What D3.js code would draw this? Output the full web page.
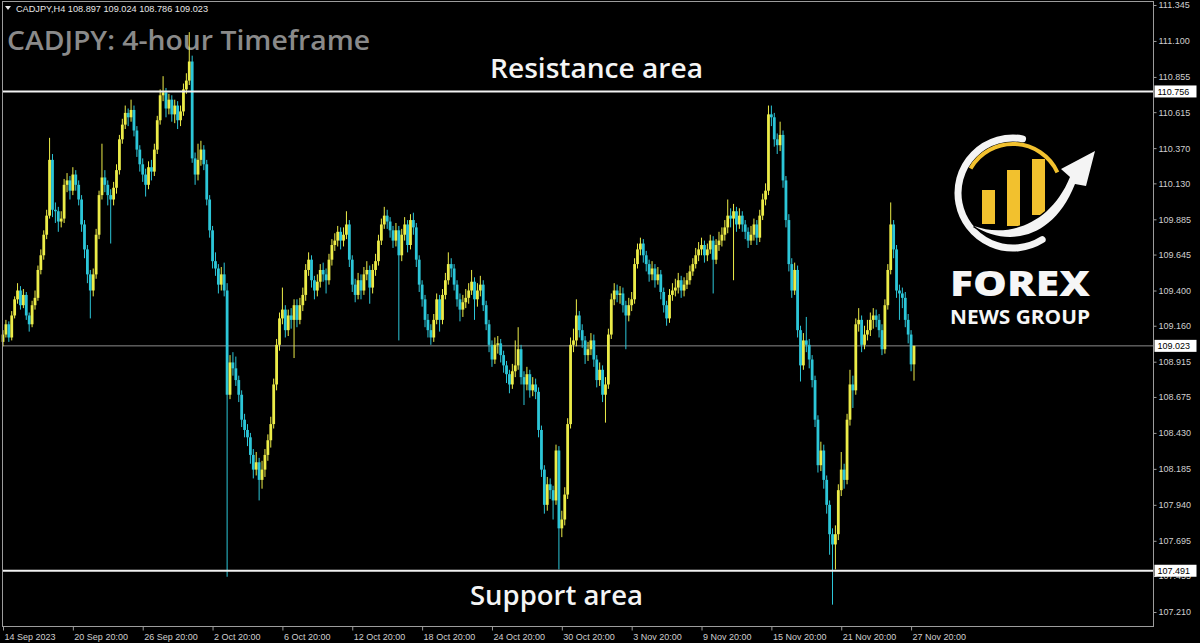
<!DOCTYPE html>
<html><head><meta charset="utf-8">
<script src="https://cdn.jsdelivr.net/npm/d3@7"></script>
<style>html,body{margin:0;padding:0;background:#000;}svg{display:block;}</style>
</head><body>
<script>
// ---------- DATA ----------
const symbolInfo = "CADJPY,H4  108.897 109.024 108.786 109.023";
const chartTitle = "CADJPY: 4-hour Timeframe";
const firstOpen = 109.05;
const closes = [
109.10,109.17,109.08,109.23,109.34,109.40,109.30,109.37,109.23,109.17,
109.30,109.35,109.54,109.64,109.78,109.91,110.29,109.95,109.94,109.87,
109.89,110.12,110.15,110.08,110.19,110.12,110.02,109.85,109.68,109.51,
109.40,109.51,109.78,110.05,110.17,110.12,110.05,110.02,110.10,110.22,
110.43,110.53,110.61,110.58,110.63,110.49,110.36,110.26,110.19,110.12,
110.24,110.21,110.36,110.56,110.73,110.75,110.64,110.70,110.60,110.66,
110.56,110.62,110.77,110.83,110.96,110.30,110.19,110.29,110.36,110.26,
110.02,109.81,109.60,109.55,109.44,109.51,109.40,108.69,108.91,108.87,
108.79,108.69,108.52,108.45,108.40,108.28,108.18,108.23,108.11,108.18,
108.28,108.38,108.49,108.76,109.03,109.21,109.27,109.13,109.23,109.20,
109.30,109.20,109.30,109.37,109.54,109.61,109.47,109.40,109.46,109.54,
109.51,109.47,109.61,109.71,109.74,109.80,109.74,109.78,109.85,109.61,
109.44,109.37,109.47,109.40,109.51,109.54,109.42,109.54,109.60,109.74,
109.85,109.91,109.87,109.81,109.74,109.81,109.64,109.78,109.85,109.71,
109.88,109.83,109.61,109.44,109.34,109.20,109.13,109.08,109.20,109.34,
109.20,109.37,109.47,109.58,109.55,109.44,109.34,109.27,109.32,109.35,
109.40,109.46,109.34,109.40,109.44,109.30,109.17,109.03,108.93,109.03,
109.04,108.96,108.89,108.83,108.76,108.85,108.89,109.00,108.81,108.76,
108.83,108.72,108.76,108.71,108.45,108.18,107.94,108.08,108.04,107.97,
108.31,107.78,107.84,108.01,108.49,109.03,109.06,109.23,109.13,109.06,
108.96,109.00,109.06,108.93,108.79,108.86,108.69,108.76,109.10,109.34,
109.40,109.37,109.38,109.30,109.23,109.30,109.34,109.58,109.68,109.72,
109.64,109.58,109.51,109.55,109.47,109.51,109.39,109.30,109.21,109.37,
109.40,109.42,109.47,109.40,109.44,109.47,109.53,109.58,109.64,109.68,
109.71,109.64,109.68,109.74,109.61,109.71,109.74,109.78,109.83,109.91,
109.89,109.94,109.85,109.91,109.85,109.80,109.74,109.78,109.85,109.76,
109.91,110.02,110.08,110.60,110.58,110.43,110.39,110.46,110.15,109.88,
109.58,109.40,109.54,109.13,108.89,109.06,109.03,108.93,108.79,108.52,
108.21,108.31,108.11,107.94,107.74,107.67,107.74,108.04,108.18,108.11,
108.52,108.76,108.72,109.17,109.20,109.03,109.10,109.13,109.20,109.23,
109.20,109.13,109.00,109.30,109.54,109.85,109.68,109.40,109.38,109.35,
109.20,109.10,108.897,109.023];
const highs = [
109.13,109.20,109.19,109.26,109.36,109.45,109.43,109.41,109.39,109.25,
109.33,109.40,109.57,109.68,109.81,109.95,110.44,110.33,110.00,109.97,
109.94,110.16,110.20,110.18,110.24,110.22,110.15,110.05,109.88,109.71,
109.54,109.55,109.82,110.08,110.40,110.22,110.15,110.09,110.14,110.26,
110.46,110.57,110.66,110.64,110.70,110.66,110.52,110.39,110.30,110.23,
110.28,110.29,110.40,110.59,110.77,110.86,110.78,110.74,110.73,110.70,
110.69,110.66,110.81,110.88,111.16,111.00,110.34,110.40,110.42,110.39,
110.29,110.05,109.84,109.66,109.58,109.56,109.59,109.45,108.96,108.98,
108.95,108.82,108.72,108.56,108.49,108.43,108.32,108.30,108.26,108.24,
108.32,108.42,108.54,108.80,109.07,109.25,109.42,109.30,109.27,109.28,
109.34,109.34,109.35,109.42,109.58,109.66,109.64,109.50,109.51,109.58,
109.59,109.55,109.65,109.75,109.79,109.84,109.83,109.83,109.94,109.88,
109.64,109.48,109.52,109.51,109.56,109.60,109.57,109.58,109.65,109.78,
109.89,109.97,109.95,109.90,109.84,109.86,109.84,109.82,109.90,109.88,
109.92,109.93,109.86,109.64,109.47,109.37,109.24,109.17,109.24,109.38,
109.37,109.41,109.52,109.66,109.62,109.58,109.47,109.38,109.37,109.41,
109.45,109.54,109.49,109.45,109.50,109.47,109.33,109.20,109.06,109.08,
109.09,109.07,108.99,108.92,108.86,108.90,109.06,109.15,109.03,108.85,
108.88,108.86,108.81,108.80,108.74,108.48,108.21,108.13,108.12,108.07,
108.35,108.34,107.90,108.06,108.53,109.08,109.14,109.34,109.26,109.17,
109.09,109.05,109.11,109.10,108.96,108.91,108.89,108.81,109.14,109.38,
109.45,109.44,109.43,109.42,109.33,109.35,109.39,109.62,109.72,109.76,
109.75,109.67,109.61,109.60,109.58,109.56,109.54,109.42,109.33,109.41,
109.45,109.48,109.52,109.50,109.49,109.52,109.57,109.62,109.69,109.73,
109.76,109.74,109.72,109.78,109.77,109.75,109.80,109.83,109.88,110.02,
109.96,109.99,109.97,109.96,109.94,109.88,109.83,109.84,109.89,109.88,
109.95,110.06,110.13,110.66,110.66,110.61,110.47,110.55,110.49,110.18,
109.92,109.62,109.59,109.57,109.16,109.11,109.22,109.07,108.96,108.82,
108.55,108.37,108.35,108.14,107.97,107.78,107.80,108.08,108.30,108.22,
108.56,108.86,108.82,109.21,109.28,109.23,109.16,109.20,109.25,109.28,
109.27,109.24,109.17,109.34,109.58,110.00,109.88,109.71,109.44,109.42,
109.39,109.24,109.13,109.024];
const lows = [
109.02,109.08,109.05,109.06,109.21,109.31,109.27,109.28,109.20,109.12,
109.15,109.27,109.33,109.51,109.61,109.75,109.89,109.90,109.86,109.80,
109.83,109.86,110.07,110.02,110.05,110.08,109.98,109.80,109.62,109.45,
109.21,109.36,109.48,109.75,110.02,110.07,109.98,109.72,109.98,110.06,
110.19,110.40,110.50,110.52,110.55,110.45,110.31,110.21,110.14,110.04,
110.09,110.15,110.18,110.33,110.53,110.69,110.58,110.60,110.55,110.54,
110.50,110.52,110.59,110.74,110.80,110.27,110.12,110.15,110.25,110.22,
109.98,109.76,109.55,109.50,109.38,109.40,109.36,107.45,108.66,108.82,
108.75,108.64,108.47,108.40,108.34,108.22,108.12,108.14,107.97,108.05,
108.13,108.24,108.33,108.46,108.72,108.99,109.17,109.08,109.09,109.14,
108.94,109.15,109.17,109.26,109.33,109.50,109.42,109.34,109.36,109.42,
109.46,109.38,109.44,109.57,109.67,109.70,109.68,109.70,109.75,109.56,
109.39,109.32,109.34,109.34,109.37,109.47,109.31,109.38,109.50,109.57,
109.71,109.82,109.82,109.76,109.69,109.70,109.06,109.60,109.74,109.66,
109.68,109.78,109.56,109.39,109.29,109.15,109.08,109.03,109.05,109.17,
109.12,109.17,109.34,109.44,109.49,109.40,109.29,109.19,109.22,109.28,
109.31,109.37,109.20,109.29,109.36,109.26,109.13,108.98,108.88,108.90,
108.97,108.91,108.84,108.77,108.70,108.73,108.81,108.86,108.76,108.62,
108.72,108.67,108.68,108.66,108.40,108.13,107.88,107.90,107.98,107.84,
107.94,107.50,107.72,107.80,107.98,108.46,108.98,109.02,109.08,109.01,
108.90,108.92,108.96,108.88,108.74,108.75,108.64,108.50,108.73,109.07,
109.30,109.32,109.31,109.25,109.00,109.19,109.26,109.31,109.55,109.64,
109.59,109.53,109.46,109.47,109.42,109.44,109.34,109.25,109.16,109.18,
109.33,109.36,109.38,109.35,109.36,109.41,109.44,109.50,109.55,109.60,
109.64,109.59,109.60,109.65,109.38,109.58,109.67,109.70,109.74,109.79,
109.83,109.47,109.80,109.82,109.80,109.75,109.69,109.71,109.74,109.71,
109.73,109.88,109.98,110.05,110.52,110.38,110.33,110.35,110.10,109.83,
109.53,109.35,109.37,109.08,108.78,108.86,108.98,108.87,108.74,108.47,
108.16,108.17,108.05,107.88,107.60,107.26,107.50,107.70,108.00,108.05,
108.08,108.48,108.60,108.69,109.12,108.98,109.00,109.06,109.09,109.14,
109.15,109.08,108.96,108.97,109.27,109.51,109.62,109.35,109.20,109.28,
109.15,109.04,108.85,108.786];
const resistanceLevel = 110.756;
const supportLevel = 107.491;
const lastPrice = 109.023;
const priceTicks = [111.345,111.100,110.855,110.615,110.370,110.130,109.885,109.645,109.400,109.160,108.915,108.675,108.430,108.185,107.940,107.695,107.455,107.210];
const timeTickBars = [0,24,48,72,96,120,144,168,192,216,240,264,288,312];
const timeLabels = ["14 Sep 2023","20 Sep 20:00","26 Sep 20:00","2 Oct 20:00","6 Oct 20:00","12 Oct 20:00","18 Oct 20:00","24 Oct 20:00","30 Oct 20:00","3 Nov 20:00","9 Nov 20:00","15 Nov 20:00","21 Nov 20:00","27 Nov 20:00"];

// ---------- CHART ----------
const W = 1200, H = 643;
const BULL = "#ecec48", BEAR = "#2cc6d8", FRAME = "#9c9c9c", LABEL = "#cfcfcf";
const svg = d3.select("body").append("svg").attr("width", W).attr("height", H);
svg.append("rect").attr("width", W).attr("height", H).attr("fill", "#000");

const x = d3.scaleLinear().domain([0, closes.length - 1]).range([3, 914]);
const y = d3.scaleLinear().domain([111.345, 107.210]).range([5, 612]);
const plotL = 2.5, plotR = 1153.5, plotT = 1.5, plotB = 626.5;

const bars = closes.map((c, i) => ({
  i, c, h: highs[i], l: lows[i], o: i === 0 ? firstOpen : closes[i - 1]
}));

// title (behind candles)
svg.append("text").attr("x", 7).attr("y", 50)
  .attr("font-family", "'Open Sans', 'Noto Sans', sans-serif").attr("font-weight", 600)
  .attr("font-size", 27).attr("fill", "#8a8a8a")
  .attr("textLength", 363).attr("lengthAdjust", "spacingAndGlyphs").text(chartTitle);

// header
svg.append("path").attr("d", "M5,6 L11,6 L8,10 Z").attr("fill", "#e8e8e8");
svg.append("text").attr("x", 16).attr("y", 12)
  .attr("font-family", "'Liberation Sans', Arial, sans-serif").attr("font-size", 9)
  .attr("fill", "#e6e6e6").attr("textLength", 192).attr("lengthAdjust", "spacingAndGlyphs")
  .text(symbolInfo);

// last price line
svg.append("line").attr("x1", plotL).attr("x2", plotR)
  .attr("y1", y(lastPrice)).attr("y2", y(lastPrice))
  .attr("stroke", "#8c8c8c").attr("stroke-width", 1);

// candles
const cg = svg.append("g");
cg.selectAll("line.wick").data(bars).join("line").attr("class", "wick")
  .attr("x1", d => x(d.i)).attr("x2", d => x(d.i))
  .attr("y1", d => y(d.h)).attr("y2", d => y(d.l))
  .attr("stroke", d => d.c >= d.o ? BULL : BEAR).attr("stroke-width", 1);
cg.selectAll("rect.body").data(bars).join("rect").attr("class", "body")
  .attr("x", d => x(d.i) - 1.4).attr("width", 2.8)
  .attr("y", d => y(Math.max(d.o, d.c)))
  .attr("height", d => Math.max(1, Math.abs(y(d.o) - y(d.c))))
  .attr("fill", d => d.c >= d.o ? BULL : BEAR);

// support / resistance lines
[resistanceLevel, supportLevel].forEach(v => {
  svg.append("line").attr("x1", plotL).attr("x2", plotR)
    .attr("y1", y(v)).attr("y2", y(v))
    .attr("stroke", "#f2f2f2").attr("stroke-width", 2);
});

const bigFont = "'Open Sans', 'Noto Sans', sans-serif";
svg.append("text").attr("x", 490).attr("y", 78).attr("font-family", bigFont)
  .attr("font-weight", 600).attr("font-size", 27).attr("fill", "#f4f4f4")
  .attr("textLength", 213).attr("lengthAdjust", "spacingAndGlyphs").text("Resistance area");
svg.append("text").attr("x", 470).attr("y", 605).attr("font-family", bigFont)
  .attr("font-weight", 600).attr("font-size", 27).attr("fill", "#f4f4f4")
  .attr("textLength", 173).attr("lengthAdjust", "spacingAndGlyphs").text("Support area");

// logo
const logo = svg.append("g");
const cx = 1013, cy = 193;
function arcPath(r, a0, a1, sweep, large) {
  const p0 = [cx + r * Math.cos(a0 * Math.PI / 180), cy + r * Math.sin(a0 * Math.PI / 180)];
  const p1 = [cx + r * Math.cos(a1 * Math.PI / 180), cy + r * Math.sin(a1 * Math.PI / 180)];
  return `M${p0[0]},${p0[1]} A${r},${r} 0 ${large} ${sweep} ${p1[0]},${p1[1]}`;
}
logo.append("path").attr("d", arcPath(55, -80, 58, 0, 1))
  .attr("fill", "none").attr("stroke", "#f4f4f4").attr("stroke-width", 7).attr("stroke-linecap", "round");
logo.append("path").attr("d", arcPath(49, -150, -25, 1, 0))
  .attr("fill", "none").attr("stroke", "#f2c12e").attr("stroke-width", 4);
logo.append("rect").attr("x", 982).attr("y", 190).attr("width", 13).attr("height", 34).attr("fill", "#f2c12e");
logo.append("rect").attr("x", 1007).attr("y", 170).attr("width", 13).attr("height", 56).attr("fill", "#f2c12e");
logo.append("rect").attr("x", 1032).attr("y", 159).attr("width", 13).attr("height", 56).attr("fill", "#f2c12e");
logo.append("path")
  .attr("d", "M974,226 C1005,246 1052,242 1075,184 L1086,186 L1095,151 L1061,169 L1070,177 C1050,226 1006,238 974,226 Z")
  .attr("fill", "#f4f4f4").attr("stroke", "#000").attr("stroke-width", 3).attr("paint-order", "stroke");
logo.append("text").attr("x", 950).attr("y", 296).attr("font-family", bigFont)
  .attr("font-weight", 800).attr("font-size", 36).attr("fill", "#f6f6f6")
  .attr("textLength", 140).attr("lengthAdjust", "spacingAndGlyphs").text("FOREX");
logo.append("text").attr("x", 950).attr("y", 324).attr("font-family", bigFont)
  .attr("font-weight", 700).attr("font-size", 19).attr("fill", "#f6f6f6")
  .attr("textLength", 140).attr("lengthAdjust", "spacingAndGlyphs").text("NEWS GROUP");

// frame
svg.append("rect").attr("x", plotL).attr("y", plotT)
  .attr("width", plotR - plotL).attr("height", plotB - plotT)
  .attr("fill", "none").attr("stroke", FRAME).attr("stroke-width", 1);

// axes
const axisFont = "'Liberation Sans', Arial, sans-serif";
const ya = svg.append("g").attr("transform", `translate(${plotR},0)`)
  .call(d3.axisRight(y).tickValues(priceTicks).tickFormat(d3.format(".3f")).tickSize(3).tickPadding(2));
ya.select(".domain").remove();
ya.selectAll("line").attr("stroke", FRAME);
ya.selectAll("text").attr("fill", LABEL).attr("font-family", axisFont).attr("font-size", 9);

const xa = svg.append("g").attr("transform", `translate(0,${plotB})`)
  .call(d3.axisBottom(x).tickValues(timeTickBars).tickFormat((d, i) => timeLabels[i]).tickSize(4).tickPadding(3));
xa.select(".domain").remove();
xa.selectAll("line").attr("stroke", FRAME);
xa.selectAll("text").attr("fill", LABEL).attr("font-family", axisFont).attr("font-size", 9)
  .attr("text-anchor", "start").attr("x", 1);

// price boxes
[resistanceLevel, lastPrice, supportLevel].forEach(v => {
  const yy = y(v);
  svg.append("rect").attr("x", plotR + 1).attr("y", yy - 6).attr("width", 42).attr("height", 12)
    .attr("fill", "#ffffff");
  svg.append("text").attr("x", plotR + 4).attr("y", yy + 3.5).attr("fill", "#000")
    .attr("font-family", axisFont).attr("font-size", 9).text(d3.format(".3f")(v));
});
</script>
</body></html>
